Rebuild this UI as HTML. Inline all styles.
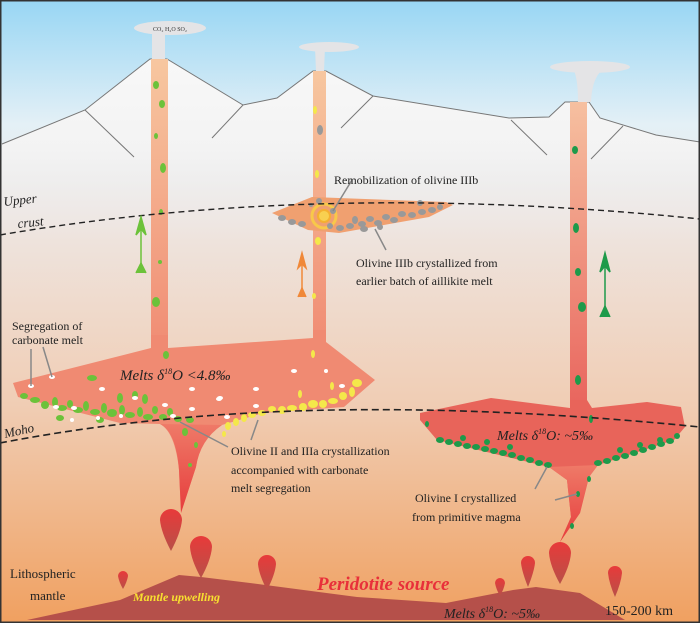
<!DOCTYPE html>
<html><head><meta charset="utf-8"><style>html,body{margin:0;padding:0;background:#333}svg{display:block}</style></head><body>
<svg width="700" height="623" viewBox="0 0 700 623" xmlns="http://www.w3.org/2000/svg" font-family="Liberation Serif, serif">
<defs>
<linearGradient id="bg" x1="0" y1="0" x2="0" y2="1">
<stop offset="0" stop-color="#98d6f4"/><stop offset="0.2" stop-color="#e4f0f6"/><stop offset="0.35" stop-color="#eee6e2"/><stop offset="0.65" stop-color="#f0cdb4"/><stop offset="1" stop-color="#f0a060"/></linearGradient>
<linearGradient id="mt" gradientUnits="userSpaceOnUse" x1="0" y1="60" x2="0" y2="240"><stop offset="0" stop-color="#f8f8f8"/><stop offset="0.5" stop-color="#f3f3f3"/><stop offset="1" stop-color="#eeeae8" stop-opacity="0"/></linearGradient>
<linearGradient id="cond" x1="0" y1="0" x2="0" y2="1"><stop offset="0" stop-color="#f7c7a0"/><stop offset="1" stop-color="#f08a72"/></linearGradient>
<linearGradient id="condR" x1="0" y1="0" x2="0" y2="1"><stop offset="0" stop-color="#f6c0a0"/><stop offset="1" stop-color="#e8605a"/></linearGradient>
<linearGradient id="stem" x1="0" y1="0" x2="0" y2="1"><stop offset="0" stop-color="#ef7a68"/><stop offset="1" stop-color="#e63c3c"/></linearGradient>
<linearGradient id="drop" x1="0" y1="0" x2="0" y2="1"><stop offset="0" stop-color="#e83a3a"/><stop offset="1" stop-color="#b85048"/></linearGradient>
</defs>
<rect x="0" y="0" width="700" height="623" fill="url(#bg)"/>
<!-- mountains -->
<polygon points="2,144 85,110 150,59 167,59 243,105 277,98 313,71 326,71 373,96 509,118 549,117 565,102 589,102 600,118 656,135 700,142 700,240 0,240" fill="url(#mt)"/>
<polyline points="2,144 85,110 150,59 167,59 243,105 277,98 313,71 326,71 373,96 509,118 549,117 565,102 589,102 600,118 656,135 700,142" fill="none" stroke="#777" stroke-width="1"/>
<g stroke="#777" stroke-width="1"><line x1="85" y1="110" x2="134" y2="157"/><line x1="243" y1="105" x2="212" y2="138"/><line x1="373" y1="96" x2="341" y2="128"/><line x1="511" y1="120" x2="547" y2="155"/><line x1="623" y1="126" x2="591" y2="159"/></g>
<!-- plumes -->
<ellipse cx="170" cy="28" rx="36" ry="7" fill="#e4e4e6"/><rect x="152" y="30" width="13" height="30" fill="#e4e4e6"/>
<text x="170" y="31" font-size="6" text-anchor="middle" fill="#333">CO₂ H₂O SO₂</text>
<ellipse cx="329" cy="47" rx="30" ry="5" fill="#e4e4e6"/><path d="M315 47 L325 47 L324 71 L316 71Z" fill="#e4e4e6"/>
<ellipse cx="590" cy="67" rx="40" ry="6" fill="#e4e4e6"/><path d="M572 67 L606 67 Q592 75 591 102 L578 102 Q578 75 572 67Z" fill="#e4e4e6"/>
<!-- conduits -->
<rect x="151" y="59" width="17" height="300" fill="url(#cond)"/>
<rect x="313" y="71" width="13" height="280" fill="url(#cond)"/>
<rect x="570" y="102" width="17" height="320" fill="url(#condR)"/>
<!-- middle chamber -->
<path d="M272,213 L312,197 L446,202 L453,205 L429,217 L339,233 L308,230 Z" fill="#f0a070"/>
<circle cx="324" cy="216" r="12" fill="none" stroke="#f8c84a" stroke-width="3"/><circle cx="324" cy="216" r="6" fill="#f8d050" stroke="#f5b030" stroke-width="2"/>
<g fill="#999">
<ellipse cx="282" cy="218" rx="4" ry="3"/><ellipse cx="292" cy="222" rx="4" ry="3"/><ellipse cx="302" cy="224" rx="4" ry="3"/><ellipse cx="340" cy="228" rx="4" ry="3"/><ellipse cx="350" cy="226" rx="4" ry="3"/><ellipse cx="355" cy="220" rx="3" ry="4"/><ellipse cx="362" cy="224" rx="4" ry="3"/><ellipse cx="370" cy="219" rx="4" ry="3"/><ellipse cx="378" cy="223" rx="4" ry="3"/><ellipse cx="386" cy="217" rx="4" ry="3"/><ellipse cx="394" cy="220" rx="4" ry="3"/><ellipse cx="402" cy="214" rx="4" ry="3"/><ellipse cx="412" cy="215" rx="4" ry="3"/><ellipse cx="422" cy="212" rx="4" ry="3"/><ellipse cx="432" cy="210" rx="4" ry="3"/><ellipse cx="440" cy="207" rx="3" ry="3"/><ellipse cx="420" cy="203" rx="3" ry="3"/><ellipse cx="333" cy="211" rx="3" ry="3"/><ellipse cx="319" cy="201" rx="3" ry="3"/><ellipse cx="330" cy="226" rx="3" ry="3"/><ellipse cx="364" cy="229" rx="4" ry="3"/><ellipse cx="380" cy="227" rx="3" ry="3"/><ellipse cx="320" cy="130" rx="3" ry="5"/><ellipse cx="311" cy="205" rx="2" ry="2"/>
</g>
<!-- left chamber -->
<path d="M13,383 L151,348 L151,335 L168,335 L168,348 L313,338 L313,330 L326,330 L326,342 L375,380 L344,407 L263,413 L222,425 Q200,440 196,467 L181,513 L179,470 Q175,432 160,424 L120,423 L18,397 Z" fill="#f08a72"/>
<path d="M160,424 Q176,432 179,470 L181,513 L196,467 Q200,440 222,425 Z" fill="url(#stem)"/>
<!-- right chamber -->
<path d="M420,413 L491,398 L570,408 L570,400 L587,400 L592,408 L647,402 L681,407 L685,427 L674,440 L598,465 L589,477 L580,513 L560,542 L571,517 L567,480 L549,467 L437,440 L420,420 Z" fill="#e8645a"/>
<path d="M567,480 L571,517 L560,542 L580,513 L589,477 L598,465 L549,467Z" fill="url(#stem)"/>
<!-- olivine green (left) -->
<g fill="#6cc23a">
<ellipse cx="156" cy="85" rx="3" ry="4"/><ellipse cx="162" cy="104" rx="3" ry="4"/><ellipse cx="156" cy="136" rx="2" ry="3"/><ellipse cx="163" cy="168" rx="3" ry="5"/><ellipse cx="161" cy="212" rx="2" ry="3"/><ellipse cx="160" cy="262" rx="2" ry="2"/><ellipse cx="156" cy="302" rx="4" ry="5"/><ellipse cx="166" cy="355" rx="3" ry="4"/><ellipse cx="92" cy="378" rx="5" ry="3"/>
<ellipse cx="24" cy="396" rx="4" ry="3"/><ellipse cx="35" cy="400" rx="5" ry="3"/><ellipse cx="45" cy="405" rx="4" ry="4"/><ellipse cx="55" cy="402" rx="3" ry="5"/><ellipse cx="62" cy="408" rx="5" ry="3"/><ellipse cx="70" cy="404" rx="3" ry="4"/><ellipse cx="78" cy="410" rx="5" ry="3"/><ellipse cx="86" cy="406" rx="3" ry="5"/><ellipse cx="95" cy="412" rx="5" ry="3"/><ellipse cx="104" cy="408" rx="3" ry="5"/><ellipse cx="112" cy="413" rx="5" ry="4"/><ellipse cx="122" cy="410" rx="3" ry="5"/><ellipse cx="130" cy="415" rx="5" ry="3"/><ellipse cx="140" cy="412" rx="3" ry="5"/><ellipse cx="148" cy="417" rx="5" ry="3"/><ellipse cx="155" cy="410" rx="3" ry="4"/><ellipse cx="163" cy="417" rx="4" ry="3"/><ellipse cx="170" cy="412" rx="3" ry="4"/><ellipse cx="178" cy="419" rx="4" ry="3"/><ellipse cx="120" cy="398" rx="3" ry="5"/><ellipse cx="135" cy="395" rx="3" ry="4"/><ellipse cx="145" cy="399" rx="3" ry="5"/><ellipse cx="190" cy="420" rx="4" ry="3"/><ellipse cx="185" cy="432" rx="3" ry="4"/><ellipse cx="196" cy="445" rx="2" ry="3"/><ellipse cx="190" cy="465" rx="2" ry="2"/><ellipse cx="60" cy="418" rx="4" ry="3"/><ellipse cx="100" cy="420" rx="4" ry="3"/>
</g>
<g fill="#f4e84a">
<ellipse cx="315" cy="110" rx="2" ry="4"/><ellipse cx="317" cy="174" rx="2" ry="4"/><ellipse cx="318" cy="241" rx="3" ry="4"/><ellipse cx="314" cy="296" rx="2" ry="3"/><ellipse cx="313" cy="354" rx="2" ry="4"/>
<ellipse cx="357" cy="383" rx="5" ry="4"/><ellipse cx="352" cy="392" rx="3" ry="5"/><ellipse cx="343" cy="396" rx="4" ry="4"/><ellipse cx="333" cy="401" rx="5" ry="3"/><ellipse cx="323" cy="404" rx="4" ry="4"/><ellipse cx="313" cy="404" rx="5" ry="4"/><ellipse cx="303" cy="407" rx="4" ry="4"/><ellipse cx="292" cy="408" rx="5" ry="3"/><ellipse cx="282" cy="410" rx="4" ry="4"/><ellipse cx="272" cy="409" rx="4" ry="3"/><ellipse cx="262" cy="413" rx="4" ry="3"/><ellipse cx="252" cy="415" rx="4" ry="3"/><ellipse cx="244" cy="418" rx="3" ry="4"/><ellipse cx="236" cy="422" rx="3" ry="4"/><ellipse cx="228" cy="426" rx="3" ry="4"/><ellipse cx="224" cy="434" rx="2" ry="3"/><ellipse cx="300" cy="394" rx="2" ry="4"/><ellipse cx="332" cy="386" rx="2" ry="4"/>
</g>
<g fill="#fff">
<ellipse cx="31" cy="386" rx="3" ry="2"/><ellipse cx="52" cy="377" rx="3" ry="2"/><ellipse cx="102" cy="389" rx="3" ry="2"/><ellipse cx="135" cy="398" rx="3" ry="2"/><ellipse cx="192" cy="389" rx="3" ry="2"/><ellipse cx="219" cy="399" rx="3" ry="2"/><ellipse cx="256" cy="389" rx="3" ry="2"/><ellipse cx="294" cy="371" rx="3" ry="2"/><ellipse cx="326" cy="371" rx="2" ry="2"/><ellipse cx="342" cy="386" rx="3" ry="2"/><ellipse cx="56" cy="407" rx="3" ry="2"/><ellipse cx="74" cy="408" rx="3" ry="2"/><ellipse cx="165" cy="405" rx="3" ry="2"/><ellipse cx="192" cy="409" rx="3" ry="2"/><ellipse cx="220" cy="398" rx="3" ry="2"/><ellipse cx="256" cy="406" rx="3" ry="2"/><ellipse cx="173" cy="416" rx="3" ry="2"/><ellipse cx="227" cy="417" rx="3" ry="2"/><ellipse cx="121" cy="416" rx="2" ry="2"/><ellipse cx="98" cy="418" rx="2" ry="2"/><ellipse cx="72" cy="420" rx="2" ry="2"/>
</g>
<g fill="#1e9a4a">
<ellipse cx="575" cy="150" rx="3" ry="4"/><ellipse cx="576" cy="228" rx="3" ry="5"/><ellipse cx="578" cy="272" rx="3" ry="4"/><ellipse cx="582" cy="307" rx="4" ry="5"/><ellipse cx="578" cy="380" rx="3" ry="5"/><ellipse cx="591" cy="419" rx="2" ry="4"/><ellipse cx="427" cy="424" rx="2" ry="3"/><ellipse cx="589" cy="479" rx="2" ry="3"/><ellipse cx="578" cy="494" rx="2" ry="3"/><ellipse cx="572" cy="526" rx="2" ry="3"/>
<ellipse cx="440" cy="440" rx="4" ry="3"/><ellipse cx="449" cy="442" rx="4" ry="3"/><ellipse cx="458" cy="444" rx="4" ry="3"/><ellipse cx="467" cy="446" rx="4" ry="3"/><ellipse cx="476" cy="447" rx="4" ry="3"/><ellipse cx="485" cy="449" rx="4" ry="3"/><ellipse cx="494" cy="451" rx="4" ry="3"/><ellipse cx="503" cy="453" rx="4" ry="3"/><ellipse cx="512" cy="455" rx="4" ry="3"/><ellipse cx="521" cy="458" rx="4" ry="3"/><ellipse cx="530" cy="460" rx="4" ry="3"/><ellipse cx="539" cy="463" rx="4" ry="3"/><ellipse cx="548" cy="465" rx="4" ry="3"/><ellipse cx="463" cy="438" rx="3" ry="3"/><ellipse cx="487" cy="442" rx="3" ry="3"/><ellipse cx="510" cy="447" rx="3" ry="3"/>
<ellipse cx="598" cy="463" rx="4" ry="3"/><ellipse cx="607" cy="461" rx="4" ry="3"/><ellipse cx="616" cy="458" rx="4" ry="3"/><ellipse cx="625" cy="456" rx="4" ry="3"/><ellipse cx="634" cy="453" rx="4" ry="3"/><ellipse cx="643" cy="450" rx="4" ry="3"/><ellipse cx="652" cy="447" rx="4" ry="3"/><ellipse cx="661" cy="444" rx="4" ry="3"/><ellipse cx="670" cy="441" rx="4" ry="3"/><ellipse cx="677" cy="436" rx="3" ry="3"/><ellipse cx="620" cy="450" rx="3" ry="3"/><ellipse cx="640" cy="445" rx="3" ry="3"/><ellipse cx="660" cy="440" rx="3" ry="3"/>
</g>
<!-- dashed lines -->
<path d="M0,235 Q320,180 700,219" fill="none" stroke="#222" stroke-width="1.4" stroke-dasharray="6,4"/>
<path d="M0,443 Q120,420 250,413 Q450,402 700,427" fill="none" stroke="#222" stroke-width="1.6" stroke-dasharray="7,4"/>
<!-- arrows -->
<g stroke-width="1.5"><path d="M141,273 L141,220" stroke="#6cc23a"/><path d="M136,235 L141,217 L146,235 L141,229Z M136,273 L141,263 L146,273" fill="#6cc23a" stroke="#6cc23a"/>
<path d="M302,297 L302,256" stroke="#f08838"/><path d="M298,268 L302,253 L306,268 L302,264Z M298,297 L302,288 L306,297" fill="#f08838" stroke="#f08838"/>
<path d="M605,317 L605,256" stroke="#1e9a4a"/><path d="M600,272 L605,253 L610,272 L605,266Z M600,317 L605,306 L610,317" fill="#1e9a4a" stroke="#1e9a4a"/></g>
<!-- mantle -->
<path d="M27,620 L120,600 L179,575 L201,577 L250,583 L357,597 L446,603 L513,590 L536,587 L580,593 L625,620Z" fill="#b5504a"/>
<g fill="url(#drop)">
<path d="M160,520 A11,11 0 0 1 182,520 Q181,532 171,551 Q161,532 160,520Z"/>
<path d="M190,547 A11,11 0 0 1 212,547 Q211,560 201,578 Q191,560 190,547Z"/>
<path d="M258,564 A9,9 0 0 1 276,564 Q275,575 267,590 Q259,575 258,564Z"/>
<path d="M118,576 A5,5 0 0 1 128,576 Q127,582 123,589 Q119,582 118,576Z"/>
<path d="M495,583 A5,5 0 0 1 505,583 Q504,589 500,596 Q496,589 495,583Z"/>
<path d="M521,563 A7,7 0 0 1 535,563 Q534,572 528,587 Q522,572 521,563Z"/>
<path d="M549,553 A11,11 0 0 1 571,553 Q570,566 560,584 Q550,566 549,553Z"/>
<path d="M608,573 A7,7 0 0 1 622,573 Q621,583 615,597 Q609,583 608,573Z"/>
</g>
<!-- leader lines -->
<g stroke="#888" stroke-width="1.5" fill="none">
<line x1="31" y1="349" x2="31" y2="386"/><line x1="43" y1="347" x2="52" y2="377"/>
<line x1="180" y1="422" x2="228" y2="447"/><line x1="258" y1="420" x2="251" y2="440"/>
<line x1="352" y1="180" x2="333" y2="211"/><line x1="375" y1="229" x2="386" y2="250"/>
<line x1="547" y1="467" x2="535" y2="489"/><line x1="555" y1="500" x2="577" y2="494"/>
</g>
<!-- labels -->
<g fill="#222" font-size="12">
<text x="334" y="184">Remobilization of olivine IIIb</text>
<text x="356" y="267">Olivine IIIb crystallized from</text>
<text x="356" y="285">earlier batch of aillikite melt</text>
<text x="12" y="330">Segregation of</text><text x="12" y="344">carbonate melt</text>
<text x="231" y="455">Olivine II and IIIa crystallization</text>
<text x="231" y="474">accompanied with carbonate</text>
<text x="231" y="492">melt segregation</text>
<text x="415" y="502">Olivine I crystallized</text>
<text x="412" y="521">from primitive magma</text>
<text x="10" y="578" font-size="13">Lithospheric</text><text x="30" y="600" font-size="13">mantle</text>
<text x="605" y="615" font-size="14">150-200 km</text>
</g>
<g font-style="italic" fill="#222">
<text x="4" y="206" font-size="13" transform="rotate(-6 4 206)">Upper</text>
<text x="18" y="228" font-size="13" transform="rotate(-6 18 228)">crust</text>
<text x="5" y="438" font-size="13" transform="rotate(-12 5 438)">Moho</text>
<text x="120" y="380" font-size="15">Melts δ<tspan font-size="8" dy="-6">18</tspan><tspan dy="6">O &lt;4.8‰</tspan></text>
<text x="497" y="440" font-size="14">Melts δ<tspan font-size="8" dy="-6">18</tspan><tspan dy="6">O: ~5‰</tspan></text>
<text x="444" y="618" font-size="14">Melts δ<tspan font-size="8" dy="-6">18</tspan><tspan dy="6">O: ~5‰</tspan></text>
<text x="133" y="601" font-size="12" font-weight="bold" fill="#f8e030">Mantle upwelling</text>
<text x="317" y="590" font-size="19" font-weight="bold" fill="#e8303a">Peridotite source</text>
</g>
<rect x="0.75" y="0.75" width="698.5" height="621.5" fill="none" stroke="#333" stroke-width="1.5"/>
</svg>
</body></html>
